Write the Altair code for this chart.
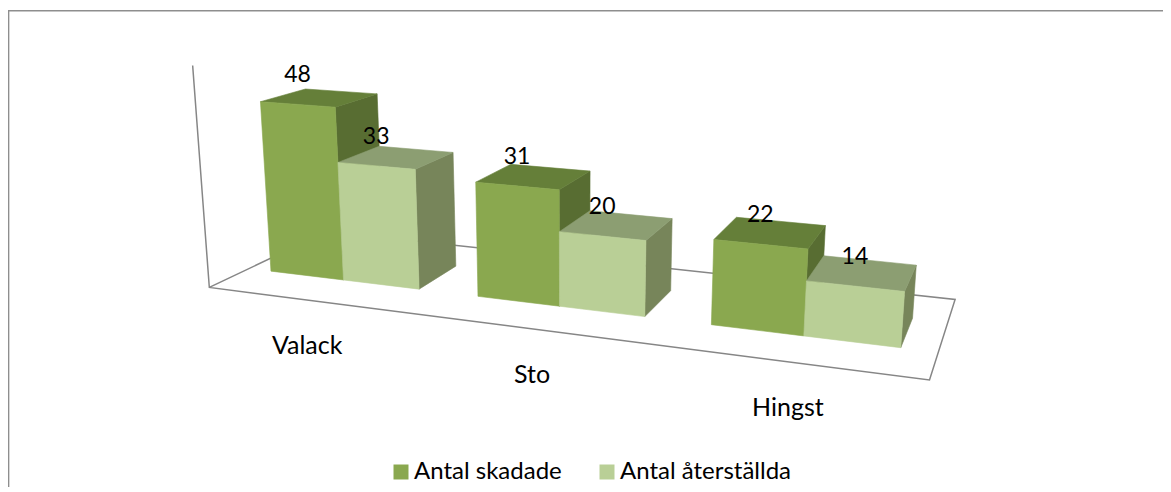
import numpy as np
import pandas as pd
import altair as alt

categories = ["Valack", "Sto", "Hingst"]
series = ["Antal skadade", "Antal återställda"]
skadade = [48, 31, 22]
aterstallda = [33, 20, 14]

# perspective camera of the 3D chart: (column units, value, depth units) -> page pixels
CAM = np.array([
    [65.44025791603663, -0.4020767615192795, 60.40183523293034, 270.98196761213103],
    [3.055269658473531, -3.6013930054267935, -7.3565246483382385, 271.14967164804125],
    [-0.02057008552155523, -0.0007015193453403512, 0.05528166126922761, 1.0],
])
W, H = 1155, 479
CAT_STEP = 2.75
X_MIN, X_MAX = -0.31, 7.875
Z_MIN, Z_MAX = -0.82, 1.85
Y_MAX = 60


def proj(X, Y, Z):
    h = CAM @ np.array([X, Y, Z, 1.0])
    return h[0] / h[2], h[1] / h[2]


xs = alt.Scale(domain=[8, 8 + W], range=[0, W])
ys = alt.Scale(domain=[8, 8 + H], range=[0, H])
X = alt.X("x:Q", scale=xs, axis=None)
Y = alt.Y("y:Q", scale=ys, axis=None)


def path(points, **mark):
    df = pd.DataFrame([{"x": p[0], "y": p[1], "i": i} for i, p in enumerate(points)])
    return alt.Chart(df).mark_line(**mark).encode(x=X, y=Y, order=alt.Order("i:Q"))


def face(corners, color):
    return path([proj(*c) for c in corners] + [proj(*corners[0])],
                fill=color, stroke=color, strokeWidth=0.6, interpolate="linear")


AXIS = dict(stroke="#868686", strokeWidth=1.5)
layers = []
# frame of the chart area
layers.append(path([(8.6, 8 + H), (8.6, 10.8), (8 + W, 10.8)], stroke="#8e8e8e", strokeWidth=1.5))
# floor and wall line
layers.append(path([proj(X_MIN, Y_MAX, Z_MIN), proj(X_MIN, 0, Z_MIN), proj(X_MAX, 0, Z_MIN),
                    proj(X_MAX, 0, Z_MAX), proj(X_MIN, 0, Z_MAX), proj(X_MIN, 0, Z_MIN)], **AXIS))

COLORS = [
    dict(front="#8aa84f", top="#657f39", side="#586d32"),
    dict(front="#b9cf96", top="#8c9e72", side="#77855a"),
]
labels = []
for c in range(len(categories)):
    for s, vals in enumerate([skadade, aterstallda]):
        v = vals[c]
        x0 = c * CAT_STEP + s
        x1 = x0 + 1
        col = COLORS[s]
        layers.append(face([(x1, 0, 0), (x1, 0, 1), (x1, v, 1), (x1, v, 0)], col["side"]))
        layers.append(face([(x0, v, 0), (x1, v, 0), (x1, v, 1), (x0, v, 1)], col["top"]))
        layers.append(face([(x0, 0, 0), (x1, 0, 0), (x1, v, 0), (x0, v, 0)], col["front"]))
        px, py = proj(x0 + 0.5, v, 0)
        labels.append({"x": px, "y": py, "t": str(v)})

FONT = "Lato"
value_text = alt.Chart(pd.DataFrame(labels)).mark_text(
    font=FONT, fontSize=23, color="#000000", dy=-29, baseline="middle", align="center"
).encode(x=X, y=Y, text="t:N")

cat_rows = []
for c, name in enumerate(categories):
    px, py = proj(c * CAT_STEP + 1, 0, Z_MIN)
    cat_rows.append({"x": px, "y": py, "t": name})
cat_text = alt.Chart(pd.DataFrame(cat_rows)).mark_text(
    font=FONT, fontSize=25, color="#000000", dy=46, baseline="middle", align="center"
).encode(x=X, y=Y, text="t:N")

legend_layer = alt.Chart(pd.DataFrame({"s": series, "x": [8, 8], "y": [8, 8]})).mark_square(size=0, opacity=1).encode(
    x=X, y=Y,
    color=alt.Color("s:N", scale=alt.Scale(domain=series, range=["#8aa84f", "#b9cf96"]),
                    legend=alt.Legend(orient="none", legendX=381, legendY=452, direction="horizontal",
                                      title=None, symbolType="square", symbolSize=225, symbolStrokeWidth=0,
                                      labelFont=FONT, labelFontSize=24, labelColor="#000000", labelLimit=300,
                                      columnPadding=33, labelOffset=1)),
)

chart = alt.layer(*layers, value_text, cat_text, legend_layer).properties(
    width=W, height=H, padding=0, background="#ffffff",
    autosize=alt.AutoSizeParams(type="none", contains="padding"),
).configure_view(stroke=None)

chart.save("out.html", embed_options={"renderer": "svg", "actions": False})
